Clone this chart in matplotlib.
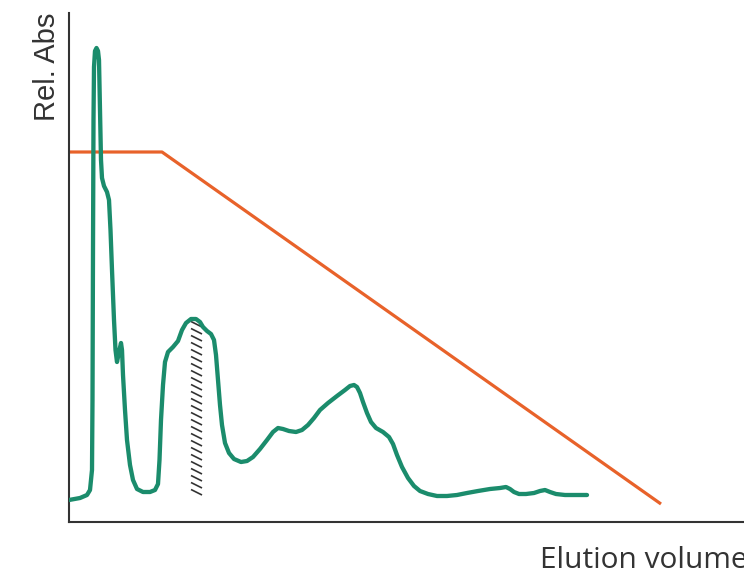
import matplotlib
matplotlib.use("Agg")
import matplotlib.pyplot as plt
from matplotlib.collections import LineCollection
import numpy as np

# UV trace of the elution (volume in arbitrary units, absorbance in arbitrary units)
volume = [0, 11, 18, 21, 23, 23.5, 24, 24.5, 25, 26, 27.5, 29, 30, 31, 32, 33, 35, 38, 40,
          41.5, 43, 45, 46.5, 48, 50, 52, 53, 54, 56, 58, 61, 64, 68, 74, 81, 86, 89,
          90.5, 92, 94, 96, 99, 104, 109, 113, 117, 122, 127, 131, 134, 138, 142, 145,
          147, 149, 151, 153, 156, 160, 165, 172, 178, 184, 191, 198, 204, 209, 214,
          220, 227, 233, 239, 245, 251, 259, 268, 276, 281, 285, 288, 291, 294, 298,
          302, 307, 314, 320, 324, 328, 333, 339, 345, 351, 359, 368, 378, 388, 398,
          409, 421, 431, 437, 441, 445, 450, 457, 465, 471, 476, 481, 487, 496, 506, 518]
absorbance = [22, 24, 27, 32, 52, 122, 272, 402, 455, 471, 474, 471, 462, 412, 362, 344, 336,
              330, 322, 292, 252, 202, 172, 160, 170, 179, 172, 147, 112, 82, 57, 42, 33,
              30, 30, 32, 38, 62, 102, 137, 160, 170, 175, 181, 192, 199, 203, 203, 200,
              195, 191, 188, 182, 167, 142, 117, 97, 79, 69, 63, 60, 61, 65, 73, 82, 90,
              94, 93, 91, 90, 92, 97, 104, 112, 119, 126, 132, 136, 137, 135, 129, 120,
              109, 100, 94, 90, 85, 78, 67, 55, 44, 36, 31, 28, 26, 26, 27, 29, 31, 33,
              34, 35, 33, 30, 28, 28, 29, 31, 32, 30, 28, 27, 27, 27]

# Gradient programme (start, hold end, final)
grad_volume = [0, 93, 592]
grad_level = [370, 370, 18]

# Collected fraction (volume range, lower absorbance limit)
fraction_start = 122
fraction_end = 133
fraction_floor = 27

green = "#1B8C6C"
orange = "#E8622A"
dark = "#333333"

fig = plt.figure(figsize=(7.44, 5.78), dpi=100)
ax = fig.add_axes([69 / 744, 56 / 578, 675 / 744, 509 / 578])
ax.set_xlim(0, 675)
ax.set_ylim(0, 509)

ax.plot(grad_volume, grad_level, color=orange, lw=2.3, solid_capstyle="butt", zorder=2)
ax.plot(volume, absorbance, color=green, lw=3.1, solid_joinstyle="round",
        solid_capstyle="round", zorder=3)

# Hatched fraction marker: short slanted dashes stacked across the fraction width
top = np.interp(fraction_start, volume, absorbance)
step = 7.0
drop = 5.5
levels = np.arange(fraction_floor + drop, top - 2, step)
segs = [[(fraction_start, y), (fraction_end, y - drop)] for y in levels]
ax.add_collection(LineCollection(segs, colors=dark, linewidths=1.2, zorder=1))

for side in ("top", "right"):
    ax.spines[side].set_visible(False)
for side in ("left", "bottom"):
    ax.spines[side].set_color(dark)
    ax.spines[side].set_linewidth(1.5)
ax.set_xticks([])
ax.set_yticks([])

fig.text(47 / 744, 1 - 13 / 578, "Rel. Abs", rotation=90, ha="center", va="top",
         fontsize=21, family="Liberation Sans", color=dark)
fig.text(540 / 744, 10 / 578, "Elution volume", ha="left", va="baseline",
         fontsize=21.5, family="Open Sans", color=dark)

fig.savefig("out.png", dpi=100)
